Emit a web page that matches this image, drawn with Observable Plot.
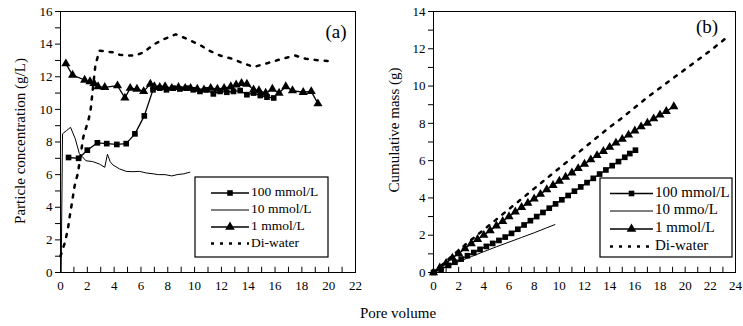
<!DOCTYPE html>
<html><head><meta charset="utf-8">
<script src="https://cdn.jsdelivr.net/npm/d3@7"></script>
<script src="https://cdn.jsdelivr.net/npm/@observablehq/plot@0.6"></script>
<style>
body{margin:0;background:#fff;}
#wrap{position:relative;width:743px;height:326px;}
#wrap > *{position:absolute;top:0;}
#wrap svg, #wrap svg text{font-family:"Liberation Serif","Times New Roman",Times,"DejaVu Serif",serif !important;}
</style></head>
<body><div id="wrap"></div>
<script>
// ---------- Panel (a): particle concentration (g/L) vs pore volume ----------
const pvA100 = [0.6,1.35,2.0,2.75,3.45,4.2,4.9,5.55,6.25,6.9,7.4,7.9,8.4,8.9,9.4,9.9,10.4,10.9,11.4,11.9,12.4,12.9,13.4,13.9,14.4,14.9,15.4,15.9];
const concA100 = [7.05,7.0,7.5,7.95,7.9,7.85,7.9,8.5,9.6,11.2,11.3,11.2,11.3,11.25,11.3,11.2,11.1,11.2,10.95,11.1,11.05,11.1,11.15,10.9,11.0,10.85,10.75,10.7];
const pvA10 = [0.05,0.15,0.45,0.75,1.1,1.4,1.9,2.4,2.9,3.3,3.5,3.7,3.9,4.4,4.9,5.4,5.9,6.4,6.9,7.3,7.8,8.3,8.7,9.2,9.65];
const concA10 = [0,8.5,8.7,8.9,8.2,7.3,6.85,6.8,6.65,6.45,7.25,6.8,6.6,6.35,6.2,6.18,6.2,6.1,6.05,6.0,6.0,5.92,6.0,6.05,6.15];
const pvA1 = [0.4,0.9,1.8,2.2,2.5,2.8,3.3,4.25,4.8,5.2,5.7,6.2,6.7,7.0,7.4,7.8,8.3,8.8,9.3,9.7,10.2,10.7,11.2,11.7,12.2,12.7,13.1,13.5,13.9,14.4,14.8,15.3,15.8,16.3,16.8,17.3,18.1,18.7,19.2];
const concA1 = [12.8,12.1,11.8,11.7,11.6,11.4,11.35,11.45,10.7,11.3,11.25,11.1,11.55,11.4,11.35,11.4,11.3,11.35,11.3,11.3,11.25,11.2,11.3,11.25,11.3,11.4,11.5,11.6,11.55,11.2,11.15,11.0,11.25,11.0,11.4,11.15,11.05,11.1,10.35];
const pvAdi = [0,0.35,0.55,0.7,0.87,1.05,1.3,1.7,2.1,2.25,2.6,2.9,3.4,3.9,4.4,4.9,5.6,6.2,7.0,7.7,8.6,9.5,10.5,11.1,11.9,12.8,13.4,14.4,15.3,16.1,17.0,17.5,18.3,19.3,20.3];
const concAdi = [1.0,1.9,2.66,3.5,4.35,5.3,6.1,8.3,9.4,10.0,12.7,13.6,13.55,13.5,13.35,13.3,13.3,13.5,14.0,14.3,14.6,14.3,13.9,13.6,13.3,13.1,12.9,12.6,12.8,13.0,13.2,13.3,13.1,13.0,12.95];

// ---------- Panel (b): cumulative mass (g) vs pore volume ----------
const pvB100 = [0,0.6,1.2,1.7,2.2,2.7,3.2,3.7,4.2,4.7,5.2,5.7,6.2,6.7,7.2,7.7,8.2,8.7,9.2,9.7,10.2,10.7,11.2,11.7,12.2,12.7,13.2,13.7,14.2,14.7,15.2,15.6,16.05];
const massB100 = [0,0.18,0.38,0.55,0.72,0.9,1.07,1.24,1.4,1.56,1.72,1.9,2.1,2.32,2.55,2.78,3.0,3.22,3.45,3.68,3.9,4.13,4.36,4.59,4.82,5.05,5.28,5.5,5.73,5.95,6.18,6.38,6.56];
const pvB10 = [0,1,2,3,4,5,6,7,8,9,9.65];
const massB10 = [0,0.3,0.58,0.85,1.12,1.38,1.63,1.88,2.13,2.4,2.57];
const pvB1 = [0,0.5,1,1.5,2,2.5,3,3.5,4,4.5,5,5.5,6,6.5,7,7.5,8,8.5,9,9.5,10,10.5,11,11.5,12,12.5,13,13.5,14,14.5,15,15.5,16,16.5,17,17.5,18,18.5,19.1];
const massB1 = [0,0.25,0.5,0.78,1.02,1.28,1.55,1.78,2.0,2.25,2.5,2.75,3.0,3.25,3.5,3.72,3.95,4.2,4.45,4.68,4.9,5.12,5.35,5.58,5.82,6.05,6.28,6.5,6.72,6.95,7.15,7.38,7.6,7.82,8.02,8.25,8.45,8.65,8.9];
const pvBdi = [0,1,2,3,4,5,6,7,8,9,10,11,12,13,14,15,16,17,18,19,20,21,22,23.2];
const massBdi = [0,0.6,1.2,1.75,2.3,2.85,3.4,3.95,4.5,5.05,5.6,6.15,6.7,7.25,7.8,8.3,8.85,9.4,9.9,10.4,10.9,11.4,11.9,12.55];

// ---------- tick values & labels ----------
const xTicksA = d3.range(0, 23, 1);
const xLabelsA = d3.range(0, 23, 2);
const yTicksA = d3.range(0, 17, 1);
const xTicksB = d3.range(0, 25, 1);
const xLabelsB = d3.range(0, 25, 2);
const yTicksB = d3.range(0, 15, 1);
const seriesNames = ["100 mmol/L", "10 mmol/L", "1 mmol/L", "Di-water"];
const seriesNamesB = ["100 mmol/L", "10 mmo/L", "1 mmol/L", "Di-water"];
const yTitleA = "Particle concentration (g/L)";
const yTitleB = "Cumulative mass (g)";
const xTitle = "Pore volume";

const FONT = '"Liberation Serif","Times New Roman",Times,"DejaVu Serif",serif';
const zip = (xs, ys) => xs.map((x, i) => ({x, y: ys[i]}));
const style = {fontFamily: FONT, fontSize: "13px", color: "black", background: "transparent"};

function panel(o) {
  return Plot.plot({
    width: o.width, height: 295,
    marginLeft: o.ml, marginRight: o.mr, marginTop: 11, marginBottom: 23,
    style,
    x: {domain: o.xd},
    y: {domain: o.yd},
    marks: [
      Plot.frame({stroke: "black", strokeWidth: 1}),
      Plot.axisY({ticks: o.yt, tickFormat: d => d % 2 ? "" : d, tickSize: 5, tickPadding: 3, label: null, fontSize: 13}),
      Plot.axisX({ticks: o.xl, tickSize: 0, tickPadding: 8, label: null, fontSize: 13}),
      Plot.ruleX(o.xt, {y1: o.yd[0], y2: o.yd[1] * 0.02, stroke: "black"}),
      Plot.line(o.s100, {x: "x", y: "y", stroke: "black", strokeWidth: 1.3}),
      Plot.dot(o.s100, {x: "x", y: "y", symbol: "square", fill: "black", r: 3.2}),
      Plot.line(o.s10, {x: "x", y: "y", stroke: "black", strokeWidth: 1}),
      Plot.line(o.s1, {x: "x", y: "y", stroke: "black", strokeWidth: 1.3}),
      Plot.dot(o.s1, {x: "x", y: "y", symbol: "triangle", fill: "black", r: 3.4}),
      Plot.line(o.sdi, {x: "x", y: "y", stroke: "black", strokeWidth: 2.5, strokeDasharray: "3,7"})
    ]
  });
}

const wrap = document.getElementById("wrap");
const pa = panel({width: 370, ml: 60, mr: 15, xd: [0, 22], yd: [0, 16], xt: xTicksA, xl: xLabelsA, yt: yTicksA,
  s100: zip(pvA100, concA100), s10: zip(pvA10, concA10), s1: zip(pvA1, concA1), sdi: zip(pvAdi, concAdi)});
pa.style.left = "0px";
wrap.appendChild(pa);
const pb = panel({width: 373, ml: 63, mr: 8, xd: [0, 24], yd: [0, 14], xt: xTicksB, xl: xLabelsB, yt: yTicksB,
  s100: zip(pvB100, massB100), s10: zip(pvB10, massB10), s1: zip(pvB1, massB1), sdi: zip(pvBdi, massBdi)});
pb.style.left = "370px";
wrap.appendChild(pb);

// ---------- overlay: titles, panel tags, legends ----------
const svg = d3.select(wrap).append("svg").attr("width", 743).attr("height", 326)
  .style("left", "0px").attr("font-family", FONT).style("pointer-events", "none");

svg.append("text").attr("transform", "translate(22,141) rotate(-90)").attr("text-anchor", "middle")
  .attr("dominant-baseline", "middle").attr("font-size", 15).text(yTitleA);
svg.append("text").attr("transform", "translate(396,130) rotate(-90)").attr("text-anchor", "middle")
  .attr("dominant-baseline", "middle").attr("font-size", 15).text(yTitleB);
svg.append("text").attr("x", 398).attr("y", 318).attr("text-anchor", "middle").attr("font-size", 15).text(xTitle);
svg.append("text").attr("x", 336).attr("y", 38).attr("text-anchor", "middle").attr("font-size", 19).text("(a)");
svg.append("text").attr("x", 707).attr("y", 33).attr("text-anchor", "middle").attr("font-size", 19).text("(b)");

function legend(g, o) {
  g.append("rect").attr("x", o.x0).attr("y", o.y0).attr("width", o.w).attr("height", o.h)
    .attr("fill", "white").attr("stroke", "black").attr("stroke-width", 1.2);
  o.names.forEach((name, i) => {
    const y = o.ys[i];
    const line = g.append("line").attr("x1", o.l1).attr("x2", o.l2).attr("y1", y).attr("y2", y).attr("stroke", "black");
    const mx = (o.l1 + o.l2) / 2;
    if (i === 0) {
      line.attr("stroke-width", 1.3);
      g.append("rect").attr("x", mx - 2.8).attr("y", y - 2.8).attr("width", 5.6).attr("height", 5.6).attr("fill", "black");
    } else if (i === 1) {
      line.attr("stroke-width", 1);
    } else if (i === 2) {
      line.attr("stroke-width", 1.3);
      g.append("path").attr("d", d3.symbol(d3.symbolTriangle, 40)()).attr("transform", `translate(${mx},${y})`).attr("fill", "black");
    } else {
      line.attr("stroke-width", 2.5).attr("stroke-dasharray", "3,6");
    }
    g.append("text").attr("x", o.tx).attr("y", y).attr("dominant-baseline", "middle")
      .attr("font-size", o.fs).text(name);
  });
}
legend(svg.append("g"), {x0: 195, y0: 177, w: 133, h: 80, ys: [193, 210, 227, 243.5], l1: 211, l2: 249, tx: 251, fs: 13.5, names: seriesNames});
legend(svg.append("g"), {x0: 600, y0: 178, w: 132, h: 79, ys: [193.5, 211, 229, 246.5], l1: 610, l2: 653, tx: 655, fs: 15, names: seriesNamesB});
</script></body></html>
